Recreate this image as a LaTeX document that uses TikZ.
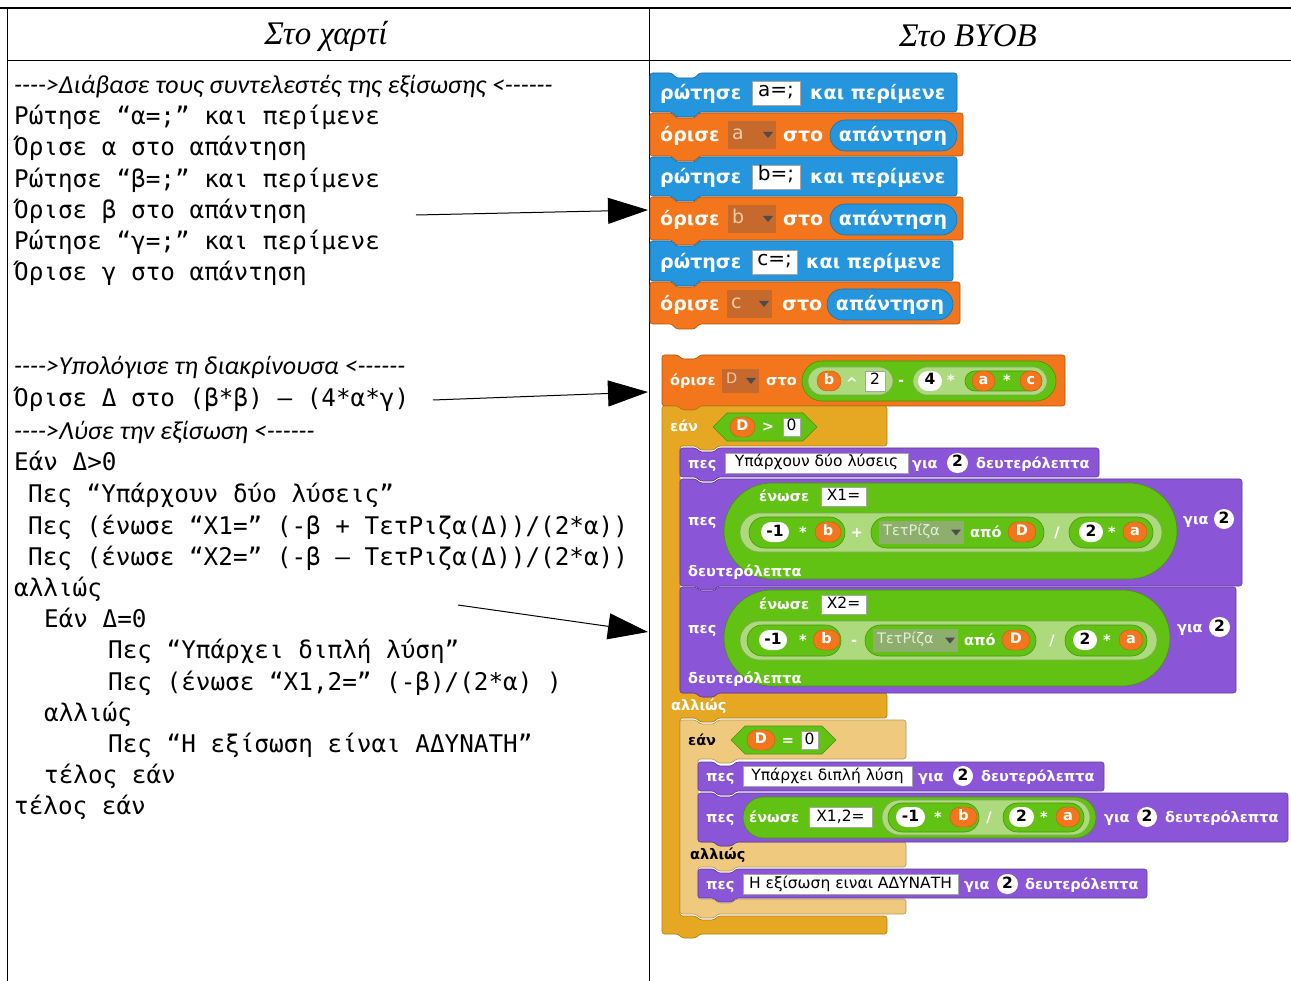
\documentclass[tikz,border=0pt]{standalone}
\usepackage{fontspec}
\usetikzlibrary{arrows.meta,shapes.misc}
\setmainfont{DejaVu Sans}
\newfontfamily\monofnt{DejaVu Sans Mono}[Ligatures=TeXOff]
\newfontfamily\cmtfnt{Carlito}[Ligatures=TeXOff]
\newfontfamily\hdrfnt{Liberation Serif}
\newfontfamily\blkfnt{DejaVu Sans}
\newfontfamily\boxfnt{DejaVu Sans}

\definecolor{sense}{HTML}{2596DD}
\definecolor{varc}{HTML}{F3761D}
\definecolor{ddvar}{HTML}{C6692C}
\definecolor{ddtxt}{HTML}{F6C8A2}
\definecolor{opg}{HTML}{62C213}
\definecolor{opl}{HTML}{ADDA7D}
\definecolor{ddop}{HTML}{8DAE6C}
\definecolor{ddoptxt}{HTML}{E4EFD8}
\definecolor{looks}{HTML}{8A55D7}
\definecolor{ctrl}{HTML}{E6A822}
\definecolor{ctrll}{HTML}{EFCA7E}

\newcommand\szU{\fontsize{19}{22}\selectfont}
\newcommand\szL{\fontsize{14.5}{17}\selectfont}
\newcommand\bxU{\fontsize{20}{22}\selectfont}
\newcommand\bxL{\fontsize{15.5}{17}\selectfont}
\let\szcur\szU
\let\bxcur\bxU
\def\labth{1.35em}
\def\numh{20pt}
\def\ntoff{22}\def\ntw{27}\def\ntd{5}

\newcounter{nd}
% white block label, left aligned at (x,y)
\newcommand\T[3]{\stepcounter{nd}\node[lab] (n\arabic{nd}) at (#1,#2) {#3};}
% dark block label, for the pale nested block
\newcommand\Td[3]{\stepcounter{nd}\node[lab,text=black] (n\arabic{nd}) at (#1,#2) {#3};}
% centred white symbol
\newcommand\Op[3]{\stepcounter{nd}\node[lab,anchor=center] (n\arabic{nd}) at (#1,#2) {#3};}
% white text slot x1,y1,x2,y2,text
\newcommand\IB[5]{\stepcounter{nd}\node[inbox,minimum width={#3-#1},minimum height={#4-#2}] (n\arabic{nd}) at ({(#1+#3)/2},{(#2+#4)/2}) {#5};}
% white number slot x1,x2,y,text
\newcommand\NumO[4]{\stepcounter{nd}\node[numo,minimum width={#2-#1}] (n\arabic{nd}) at ({(#1+#2)/2},#3) {#4};}
% variable reporter x1,x2,y,text
\newcommand\Var[4]{\stepcounter{nd}\node[vr,minimum width={#2-#1}] (n\arabic{nd}) at ({(#1+#2)/2},#3) {#4};}
% rounded reporter x1,y1,x2,y2,colour
\newcommand\Pill[5]{\pgfmathsetmacro\rr{(#4-#2)/2-0.05}%
 \filldraw[#5,draw=#5!75!black,line width=0.6pt,rounded corners=\rr pt] (#1,#2) rectangle (#3,#4);}
% boolean reporter x1,y1,x2,y2,colour
\newcommand\Hexa[5]{\pgfmathsetmacro\hh{(#4-#2)/2}%
 \filldraw[#5,draw=#5!75!black,line width=0.6pt] (#1,{(#2+#4)/2}) -- ({#1+\hh},#2) -- ({#3-\hh},#2)
 -- (#3,{(#2+#4)/2}) -- ({#3-\hh},#4) -- ({#1+\hh},#4) -- cycle;}
% drop-down menu x1,y1,x2,y2,text,fill,textcolour
\newcommand\DD[7]{\fill[#6] (#1,#2) rectangle (#3,#4);
 \stepcounter{nd}\node[lab,font=\blkfnt\szcur,text=#7] (n\arabic{nd}) at ({#1+4},{(#2+#4)/2-2}) {#5};
 \fill[black!70] ({#3-13},{(#2+#4)/2-3}) -- ({#3-3},{(#2+#4)/2-3}) -- ({#3-8},{(#2+#4)/2+3}) -- cycle;}
% stack block x1,y1,x2,y2,colour
\newcommand\cmdblk[5]{%
 \filldraw[#5,draw=#5!70!black,line width=0.6pt,rounded corners=2.5pt]
 (#1,#2) -- ({#1+\ntoff},#2) -- ({#1+\ntoff+4},{#2+\ntd}) -- ({#1+\ntoff+\ntw-4},{#2+\ntd}) -- ({#1+\ntoff+\ntw},#2) -- (#3,#2) -- (#3,#4)
 -- ({#1+\ntoff+\ntw},#4) -- ({#1+\ntoff+\ntw-4},{#4+\ntd}) -- ({#1+\ntoff+4},{#4+\ntd}) -- ({#1+\ntoff},#4) -- (#1,#4) -- cycle;}
% if/else block x1,y1,x2,yA,yB,yC,yD,yE,colour
\newcommand\ifelseblk[9]{\pgfmathsetmacro\xin{#1+18}%
 \filldraw[#9,draw=#9!75!black,line width=0.6pt,rounded corners=2.5pt]
 (#1,#2) -- ({#1+\ntoff},#2) -- ({#1+\ntoff+4},{#2+\ntd}) -- ({#1+\ntoff+\ntw-4},{#2+\ntd}) -- ({#1+\ntoff+\ntw},#2) -- (#3,#2) -- (#3,#4)
 -- ({\xin+\ntoff+\ntw},#4) -- ({\xin+\ntoff+\ntw-4},{#4+\ntd}) -- ({\xin+\ntoff+4},{#4+\ntd}) -- ({\xin+\ntoff},#4) -- (\xin,#4) -- (\xin,#5)
 -- ({\xin+\ntoff},#5) -- ({\xin+\ntoff+4},{#5+\ntd}) -- ({\xin+\ntoff+\ntw-4},{#5+\ntd}) -- ({\xin+\ntoff+\ntw},#5) -- (#3,#5) -- (#3,#6)
 -- ({\xin+\ntoff+\ntw},#6) -- ({\xin+\ntoff+\ntw-4},{#6+\ntd}) -- ({\xin+\ntoff+4},{#6+\ntd}) -- ({\xin+\ntoff},#6) -- (\xin,#6) -- (\xin,#7)
 -- ({\xin+\ntoff},#7) -- ({\xin+\ntoff+4},{#7+\ntd}) -- ({\xin+\ntoff+\ntw-4},{#7+\ntd}) -- ({\xin+\ntoff+\ntw},#7) -- (#3,#7) -- (#3,#8)
 -- ({#1+\ntoff+\ntw},#8) -- ({#1+\ntoff+\ntw-4},{#8+\ntd}) -- ({#1+\ntoff+4},{#8+\ntd}) -- ({#1+\ntoff},#8) -- (#1,#8) -- cycle;}

\begin{document}
\begin{tikzpicture}[x=1pt,y=-1pt,
  lab/.style={font=\blkfnt\bfseries\szcur,text=white,inner sep=0pt,anchor=west,text height=\labth,text depth=0pt},
  inbox/.style={draw=black!35,fill=white,inner sep=0pt,font=\boxfnt\bxcur,text=black,text height=0.8em,text depth=0pt},
  numo/.style={rounded rectangle,fill=white,inner sep=0pt,font=\boxfnt\bfseries\bxcur,text=black,text height=0.8em,text depth=0pt,minimum height=\numh},
  vr/.style={rounded rectangle,fill=varc,draw=varc!80!black,inner sep=0pt,font=\blkfnt\bfseries\szcur,text=white,text height=0.75em,text depth=0pt,minimum height=\numh},
  hdr/.style={font=\hdrfnt\itshape\fontsize{33}{37}\selectfont,inner sep=0pt},
  code/.style={font=\monofnt\fontsize{24.3}{28}\selectfont,anchor=base west,inner sep=0pt},
  cmt/.style={font=\cmtfnt\itshape\fontsize{26}{30}\selectfont,anchor=base west,inner sep=0pt},
  arr/.style={line width=1pt,-{Triangle[length=40pt,width=26pt]}}]
\useasboundingbox (0,0) rectangle (1291,981);

% table rules
\draw[line width=1.4pt] (0,8) -- (1291,8);
\draw[line width=1pt] (7,8) -- (7,981) (649,8) -- (649,981) (7,61) -- (1291,61);
\node[hdr] (hL) at (326,36) {Στο χαρτί};
\node[hdr] (hR) at (968,36) {Στο BYOB};

% pseudocode
\node[cmt]  (c1)  at (14,94)  {---->Διάβασε τους συντελεστές της εξίσωσης <------};
\node[code] (l1)  at (14,125) {Ρώτησε “α=;” και περίμενε};
\node[code] (l2)  at (14,156) {Όρισε α στο απάντηση};
\node[code] (l3)  at (14,188) {Ρώτησε “β=;” και περίμενε};
\node[code] (l4)  at (14,219) {Όρισε β στο απάντηση};
\node[code] (l5)  at (14,250) {Ρώτησε “γ=;” και περίμενε};
\node[code] (l6)  at (14,281) {Όρισε γ στο απάντηση};
\node[cmt]  (c2)  at (14,375) {---->Υπολόγισε τη διακρίνουσα <------};
\node[code] (l7)  at (14,407) {Όρισε Δ στο (β*β) – (4*α*γ)};
\node[cmt]  (c3)  at (14,440) {---->Λύσε την εξίσωση <------};
\node[code] (l8)  at (14,471) {Εάν Δ>0};
\node[code] (l9)  at (28,502) {Πες “Υπάρχουν δύο λύσεις”};
\node[code] (l10) at (28,534) {Πες (ένωσε “Χ1=” (-β + ΤετΡιζα(Δ))/(2*α))};
\node[code] (l11) at (28,565) {Πες (ένωσε “Χ2=” (-β – ΤετΡιζα(Δ))/(2*α))};
\node[code] (l12) at (14,596) {αλλιώς};
\node[code] (l13) at (44,627) {Εάν Δ=0};
\node[code] (l14) at (108,658) {Πες “Υπάρχει διπλή λύση”};
\node[code] (l15) at (108,690) {Πες (ένωσε “Χ1,2=” (-β)/(2*α) )};
\node[code] (l16) at (44,721) {αλλιώς};
\node[code] (l17) at (108,752) {Πες “Η εξίσωση είναι ΑΔΥΝΑΤΗ”};
\node[code] (l18) at (44,783) {τέλος εάν};
\node[code] (l19) at (14,814) {τέλος εάν};

% ---- script: reading the coefficients
\cmdblk{650}{73}{957}{112}{sense}
\T{660}{93}{ρώτησε}\IB{752}{81}{800}{105}{a=;}\T{810}{93}{και περίμενε}
\cmdblk{650}{113}{963}{156}{varc}
\T{660}{135}{όρισε}\DD{728}{121}{776}{149}{a}{ddvar}{ddtxt}\T{783}{135}{στο}
\Pill{830}{120}{957}{151}{sense}\Op{893}{135}{απάντηση}
\cmdblk{650}{157}{957}{196}{sense}
\T{660}{177}{ρώτησε}\IB{752}{165}{800}{189}{b=;}\T{810}{177}{και περίμενε}
\cmdblk{650}{197}{963}{240}{varc}
\T{660}{219}{όρισε}\DD{728}{205}{776}{233}{b}{ddvar}{ddtxt}\T{783}{219}{στο}
\Pill{830}{204}{957}{235}{sense}\Op{893}{219}{απάντηση}
\cmdblk{650}{241}{953}{281}{sense}
\T{660}{262}{ρώτησε}\IB{752}{250}{797}{274}{c=;}\T{806}{262}{και περίμενε}
\cmdblk{650}{282}{960}{324}{varc}
\T{660}{304}{όρισε}\DD{727}{290}{772}{318}{c}{ddvar}{ddtxt}\T{782}{304}{στο}
\Pill{827}{289}{953}{320}{sense}\Op{890}{304}{απάντηση}

% ---- script: discriminant and solution
\let\szcur\szL \let\bxcur\bxL
\def\labth{1em}
\def\ntoff{16}\def\ntw{22}\def\ntd{4}
\cmdblk{662}{355}{1065}{406}{varc}
\T{670}{381}{όρισε}\DD{722}{369}{759}{393}{D}{ddvar}{ddtxt}\T{766}{381}{στο}
\Pill{802}{361}{1056}{401}{opg}
\Pill{808}{367}{893}{395}{opl}
\Var{817}{841}{381}{b}\Op{852}{384}{\textasciicircum}\IB{865}{371}{885}{391}{2}
\Op{901}{381}{-}
\Pill{913}{367}{1047}{395}{opl}
\NumO{918}{942}{381}{4}\Op{951}{381}{*}
\Pill{965}{371}{1042}{391}{opg}
\Var{972}{995}{381}{a}\Op{1007}{381}{*}\Var{1020}{1042}{381}{c}

\ifelseblk{662}{406}{887}{446}{693}{718}{916}{934}{ctrl}
\T{670}{427}{εάν}\Hexa{713}{413}{817}{441}{opg}
\Var{730}{755}{427}{D}\Op{768}{427}{>}\IB{783}{418}{800}{436}{0}

\cmdblk{680}{448}{1099}{477}{looks}
\T{688}{463}{πες}\IB{725}{453}{908}{473}{Υπάρχουν δύο λύσεις}\T{912}{463}{για}\NumO{947}{968}{463}{2}\T{976}{463}{δευτερόλεπτα}

\cmdblk{680}{479}{1242}{586}{looks}
\T{688}{520}{πες}
\Pill{724}{483}{1177}{579}{opg}
\T{759}{496}{ένωσε}\IB{821}{487}{866}{506}{X1=}
\Pill{740}{513}{1162}{552}{opl}
\Pill{749}{517}{845}{548}{opg}
\NumO{761}{789}{532}{-1}\Op{803}{532}{*}\Var{815}{841}{532}{b}
\Op{857}{532}{+}
\Pill{871}{517}{1044}{548}{opg}
\DD{879}{521}{964}{544}{ΤετΡίζα}{ddop}{ddoptxt}\T{970}{532}{από}\Var{1008}{1036}{532}{D}
\Op{1057}{532}{/}
\Pill{1069}{517}{1153}{548}{opg}
\NumO{1079}{1103}{532}{2}\Op{1112}{532}{*}\Var{1123}{1147}{532}{a}
\T{1183}{519}{για}\NumO{1214}{1234}{519}{2}
\T{688}{571}{δευτερόλεπτα}

\cmdblk{680}{587}{1236}{693}{looks}
\T{688}{628}{πες}
\Pill{724}{590}{1170}{686}{opg}
\T{759}{604}{ένωσε}\IB{821}{595}{866}{614}{X2=}
\Pill{740}{621}{1157}{660}{opl}
\Pill{747}{625}{841}{656}{opg}
\NumO{759}{787}{640}{-1}\Op{803}{640}{*}\Var{813}{840}{640}{b}
\Op{854}{640}{-}
\Pill{865}{625}{1036}{656}{opg}
\DD{873}{629}{958}{652}{ΤετΡίζα}{ddop}{ddoptxt}\T{964}{640}{από}\Var{1002}{1030}{640}{D}
\Op{1052}{640}{/}
\Pill{1065}{625}{1147}{656}{opg}
\NumO{1073}{1097}{640}{2}\Op{1107}{640}{*}\Var{1119}{1143}{640}{a}
\T{1177}{627}{για}\NumO{1209}{1230}{627}{2}
\T{688}{678}{δευτερόλεπτα}

\T{671}{705}{αλλιώς}

\ifelseblk{680}{720}{906}{759}{842}{867}{899}{914}{ctrll}
\Td{688}{740}{εάν}\Hexa{731}{726}{836}{754}{opg}
\Var{747}{775}{740}{D}\Op{788}{740}{=}\IB{801}{731}{818}{749}{0}

\cmdblk{698}{762}{1104}{791}{looks}
\T{706}{776}{πες}\IB{743}{766}{912}{786}{Υπάρχει διπλή λύση}\T{918}{776}{για}\NumO{953}{973}{776}{2}\T{981}{776}{δευτερόλεπτα}

\cmdblk{698}{793}{1288}{842}{looks}
\T{706}{817}{πες}\Pill{743}{797}{1096}{838}{opg}
\T{749}{817}{ένωσε}\IB{809}{807}{872}{827}{X1,2=}
\Pill{882}{800}{1090}{835}{opl}
\Pill{888}{803}{979}{832}{opg}
\NumO{896}{925}{817}{-1}\Op{938}{817}{*}\Var{950}{977}{817}{b}
\Op{989}{817}{/}
\Pill{1003}{803}{1084}{832}{opg}
\NumO{1009}{1034}{817}{2}\Op{1044}{817}{*}\Var{1056}{1080}{817}{a}
\T{1104}{817}{για}\NumO{1137}{1157}{817}{2}\T{1165}{817}{δευτερόλεπτα}

\Td{690}{854}{αλλιώς}

\cmdblk{698}{869}{1147}{898}{looks}
\T{706}{884}{πες}\IB{743}{874}{958}{894}{Η εξίσωση ειναι ΑΔΥΝΑΤΗ}\T{964}{884}{για}\NumO{997}{1018}{884}{2}\T{1025}{884}{δευτερόλεπτα}

% arrows from the pseudocode to the blocks
\coordinate (s1) at (416,215); \coordinate (e1) at (648,210);
\coordinate (s2) at (433,400); \coordinate (e2) at (648,392);
\coordinate (s3) at (458,605); \coordinate (e3) at (648,632);
\draw[arr] (s1) -- (e1);
\draw[arr] (s2) -- (e2);
\draw[arr] (s3) -- (e3);
\end{tikzpicture}
\end{document}
